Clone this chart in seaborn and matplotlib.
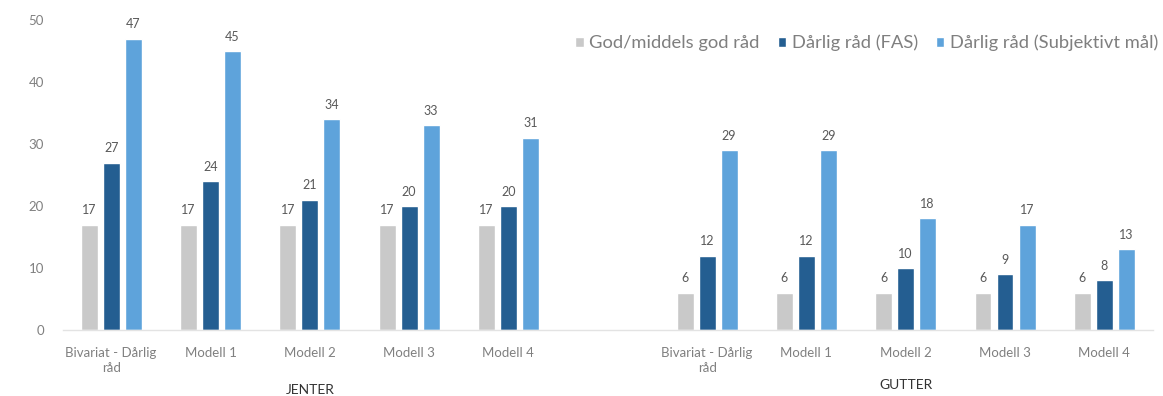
import matplotlib
matplotlib.use("Agg")
import matplotlib.pyplot as plt
import seaborn as sns
import pandas as pd

# Categories: five models for girls, a spacer slot, five models for boys
groups = ["JENTER", "GUTTER"]
models = ["Bivariat - Dårlig\nråd", "Modell 1", "Modell 2", "Modell 3", "Modell 4"]
series = ["God/middels god råd", "Dårlig råd (FAS)", "Dårlig råd (Subjektivt mål)"]

jenter_god = [17, 17, 17, 17, 17]
jenter_fas = [27, 24, 21, 20, 20]
jenter_subj = [47, 45, 34, 33, 31]

gutter_god = [6, 6, 6, 6, 6]
gutter_fas = [12, 12, 10, 9, 8]
gutter_subj = [29, 29, 18, 17, 13]

colors = ["#C9C9C9", "#245E91", "#5EA3DB"]

rows = []
for g, vals in zip(groups, [(jenter_god, jenter_fas, jenter_subj),
                            (gutter_god, gutter_fas, gutter_subj)]):
    for s, v in zip(series, vals):
        for i, m in enumerate(models):
            rows.append({"key": f"{g}_{i}", "serie": s, "verdi": v[i]})
df = pd.DataFrame(rows)

order = [f"JENTER_{i}" for i in range(5)] + ["spacer"] + [f"GUTTER_{i}" for i in range(5)]

sns.set_theme(style="white")
plt.rcParams["font.family"] = ["Lato", "DejaVu Sans"]

fig = plt.figure(figsize=(11.63, 3.96), dpi=100)
ax = fig.add_axes([0.0546, 0.1667, 0.9368, 0.783])

sns.barplot(data=df, x="key", y="verdi", hue="serie", order=order,
            hue_order=series, palette=colors, width=0.665, gap=0.23,
            saturation=1, ax=ax, legend=True)

for cont in ax.containers:
    ax.bar_label(cont, fmt="%d", padding=6, fontsize=9, color="#595959")

ax.set_ylim(0, 50)
ax.set_xlim(-0.48, 10.49)
ax.set_yticks([0, 10, 20, 30, 40, 50])
ax.tick_params(axis="y", length=0, pad=14, labelsize=9.5, labelcolor="#808080")
ax.tick_params(axis="x", length=0, pad=12, labelsize=9.5, labelcolor="#808080")
ax.set_xticks(range(len(order)))
ax.set_xticklabels(models + [""] + models, linespacing=1.35)
ax.set_xlabel("")
ax.set_ylabel("")

for side in ["top", "right", "left"]:
    ax.spines[side].set_visible(False)
ax.spines["bottom"].set_color("#E3E3E3")
ax.spines["bottom"].set_linewidth(1.0)

ax.text(2, -0.195, "JENTER", transform=ax.get_xaxis_transform(),
        ha="center", va="center", fontsize=10, color="#333333")
ax.text(8, -0.178, "GUTTER", transform=ax.get_xaxis_transform(),
        ha="center", va="center", fontsize=10, color="#333333")

leg = ax.legend(loc="center right", bbox_to_anchor=(1.02, 0.925), ncol=3,
                frameon=False, fontsize=13.2, handlelength=0.45, handleheight=0.45,
                handletextpad=0.3, columnspacing=1.0, labelcolor="#7F7F7F")

fig.savefig("out.png", dpi=100)
